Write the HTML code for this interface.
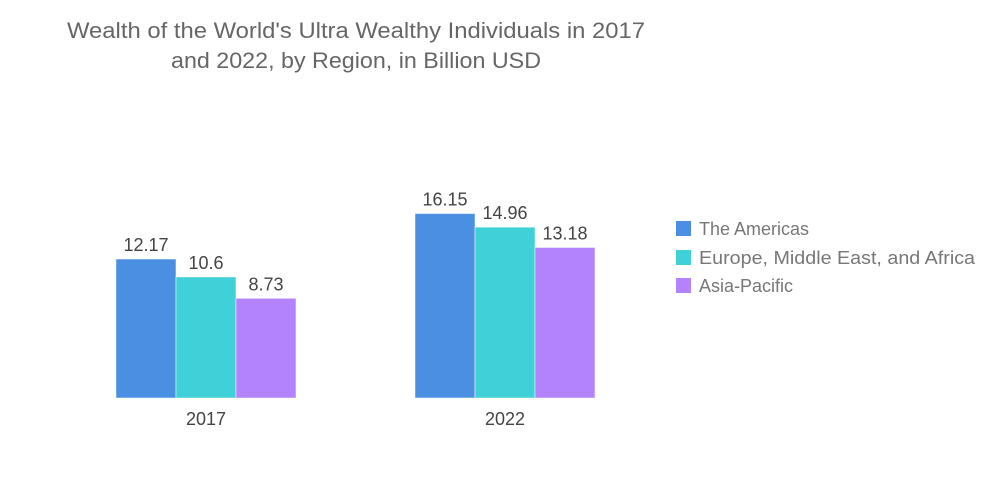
<!DOCTYPE html>
<html><head><meta charset="utf-8"><style>
body{margin:0;background:#fff;}
svg{display:block;font-family:"Liberation Sans",sans-serif;}
</style></head><body>
<svg id="chart" width="1000" height="504">
<text x="356" y="38" font-size="22" fill="#666" text-anchor="middle" textLength="578" lengthAdjust="spacingAndGlyphs">Wealth of the World's Ultra Wealthy Individuals in 2017</text>
<text x="356" y="68" font-size="22" fill="#666" text-anchor="middle" textLength="370" lengthAdjust="spacingAndGlyphs">and 2022, by Region, in Billion USD</text>
<g id="bars"></g>
<g>
<rect x="676" y="221" width="15" height="15" fill="#4a8fe2"/>
<text x="699" y="235" font-size="18" fill="#777">The Americas</text>
<rect x="676" y="250" width="15" height="15" fill="#3fd0d8"/>
<text x="699" y="264" font-size="18" fill="#777" textLength="276" lengthAdjust="spacingAndGlyphs">Europe, Middle East, and Africa</text>
<rect x="676" y="278" width="15" height="15" fill="#b283fc"/>
<text x="699" y="292" font-size="18" fill="#777">Asia-Pacific</text>
</g>
</svg>
<script>
const categories = ["2017", "2022"];
const seriesNames = ["The Americas", "Europe, Middle East, and Africa", "Asia-Pacific"];
const americas = [12.17, 16.15];
const emea = [10.6, 14.96];
const asiaPacific = [8.73, 13.18];
const valueLabels = [["12.17","16.15"],["10.6","14.96"],["8.73","13.18"]];

const series = [americas, emea, asiaPacific];
const colors = ["#4a8fe2", "#3fd0d8", "#b283fc"];
const names = ["americas", "emea", "asia-pacific"];
const baseY = 398, scale = 11.42, barW = 60;
const groupStart = [116, 415];
function y(v){ return baseY - v*scale; }
const g = document.getElementById('bars');
const ns = "http://www.w3.org/2000/svg";
categories.forEach((c, ci) => {
  series.forEach((s, si) => {
    const x = groupStart[ci] + si*barW;
    const r = document.createElementNS(ns, 'rect');
    r.setAttribute('x', x); r.setAttribute('y', y(s[ci]));
    r.setAttribute('width', barW); r.setAttribute('height', baseY - y(s[ci]));
    r.setAttribute('fill', colors[si]);
    r.setAttribute('stroke', 'rgba(255,255,255,0.5)');
    
    
    g.appendChild(r);
    const t = document.createElementNS(ns, 'text');
    t.setAttribute('x', x + barW/2); t.setAttribute('y', y(s[ci]) - 8);
    t.setAttribute('text-anchor', 'middle'); t.setAttribute('font-size', '18'); t.setAttribute('fill', '#444');
    t.textContent = valueLabels[si][ci];
    
    
    g.appendChild(t);
  });
  const lx = groupStart[ci] + barW*1.5;
  const l = document.createElementNS(ns, 'text');
  l.setAttribute('x', lx); l.setAttribute('y', 425);
  l.setAttribute('text-anchor', 'middle'); l.setAttribute('font-size', '18'); l.setAttribute('fill', '#444');
  l.textContent = c;
  
  
  g.appendChild(l);
});
</script>
</body></html>
